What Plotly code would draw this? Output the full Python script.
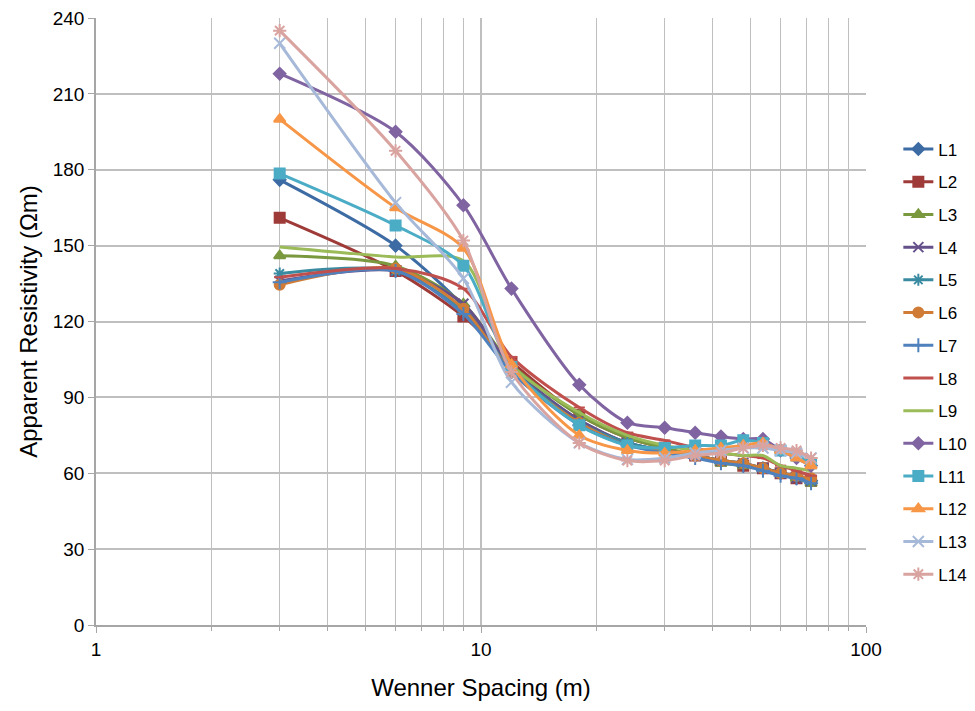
import plotly.graph_objects as go

spacing = [3, 6, 9, 12, 18, 24, 30, 36, 42, 48, 54, 60, 66, 72]

L1 = [176, 150, 126, 101, 81, 72, 69, 67, 65, 63, 62, 60, 58, 57]
L2 = [161, 140, 122, 104, 83, 74, 70, 67, 65, 63, 62, 60, 58, 57]
L3 = [146, 142, 127, 103, 83, 74, 70, 67, 64, 63, 62, 60, 58, 56]
L4 = [136, 140, 127, 102, 81, 72, 69, 67, 65, 64, 62, 60, 58, 57]
L5 = [139, 140, 124, 101, 80, 72, 69, 67, 65, 64, 62, 60, 59, 57]
L6 = [134.5, 141, 125, 100, 80, 71, 69, 67, 65, 64, 62, 60, 59, 58]
L7 = [135.5, 140, 123, 100, 79, 71, 68, 66, 64, 63, 61, 59, 58, 56]
L8 = [137.5, 141, 133, 106, 86, 76, 73, 70, 68, 67, 66, 63, 61, 59]
L9 = [149.5, 145.5, 144, 103, 84, 75, 71, 69, 68, 67, 67, 63, 62, 61]
L10 = [218, 195, 166, 133, 95, 80, 78, 76, 74.5, 73.5, 73.5, 69, 66, 63]
L11 = [178.5, 158, 142, 102, 79, 71, 70, 71, 71, 73, 72, 69, 67, 64]
L12 = [200, 165, 149, 103, 75, 69, 68, 69, 70, 71, 72, 69, 66, 63]
L13 = [230, 167, 137, 96, 72, 65.5, 66, 68, 69, 70, 70, 69, 68, 66]
L14 = [235, 187.5, 152, 100, 72, 65, 65, 67, 68, 70, 71, 70, 69, 66]

names = ["L1", "L2", "L3", "L4", "L5", "L6", "L7", "L8", "L9", "L10", "L11", "L12", "L13", "L14"]
series = [L1, L2, L3, L4, L5, L6, L7, L8, L9, L10, L11, L12, L13, L14]
colors = ["#3D6BA3", "#9E3B38", "#7A983E", "#65508A", "#3A8BA1", "#D07C36",
          "#4F81BD", "#C0504D", "#9BBB59", "#8064A2", "#4BACC6", "#F79646",
          "#A7B9D9", "#D9A3A0"]
symbols = ["diamond", "square", "triangle-up", "x-thin", "asterisk", "circle",
           "cross-thin", "line-ew", None, "diamond", "square", "triangle-up",
           "x-thin", "asterisk"]
sizes = [9, 10, 10, 10, 10, 10, 10, 8, 0, 9, 10, 10, 11, 11]

fig = go.Figure()
for nm, ys, c, s, sz in zip(names, series, colors, symbols, sizes):
    if s is None:
        mode = "lines"
        marker = dict()
    else:
        mode = "lines+markers"
        marker = dict(symbol=s, size=sz, color=c, line=dict(color=c, width=2))
    fig.add_trace(go.Scatter(
        x=spacing, y=ys, name=nm, mode=mode, legendgroup=nm,
        line=dict(color=c, width=3, shape="spline", smoothing=0.8),
        marker=marker,
    ))

grid = "#BFBFBF"
fig.update_layout(
    width=975, height=711,
    margin=dict(l=96, r=109, t=18, b=86, autoexpand=False),
    paper_bgcolor="white", plot_bgcolor="white",
    font=dict(family="Liberation Sans, Arial, sans-serif", color="#000000"),
    showlegend=True,
    legend=dict(
        x=1.042, y=0.813, xanchor="left", yanchor="top",
        font=dict(size=17, color="#000000"),
        itemwidth=30, tracegroupgap=7.6, bgcolor="rgba(0,0,0,0)",
    ),
    xaxis=dict(
        type="log", range=[0, 2], dtick=1, automargin=False,
        showgrid=True, gridcolor=grid, gridwidth=1.5,
        showline=True, linecolor="#A6A6A6", linewidth=1.5,
        ticks="outside", ticklen=6, tickcolor="#A6A6A6",
        tickfont=dict(size=19), zeroline=False,
        minor=dict(dtick="D1", showgrid=True, gridcolor=grid, gridwidth=1,
                   ticks="outside", ticklen=4, tickcolor="#A6A6A6"),
        title=dict(text="Wenner Spacing (m)", font=dict(size=24), standoff=21),
    ),
    yaxis=dict(
        range=[0, 240], dtick=30, automargin=False,
        showgrid=True, gridcolor=grid, gridwidth=1.5,
        showline=True, linecolor="#A6A6A6", linewidth=1.5,
        ticks="outside", ticklen=6, tickcolor="#A6A6A6",
        tickfont=dict(size=19), zeroline=False,
        title=dict(text="Apparent Resistivity (Ωm)", font=dict(size=24), standoff=8),
    ),
)

fig.write_html("out.html")
